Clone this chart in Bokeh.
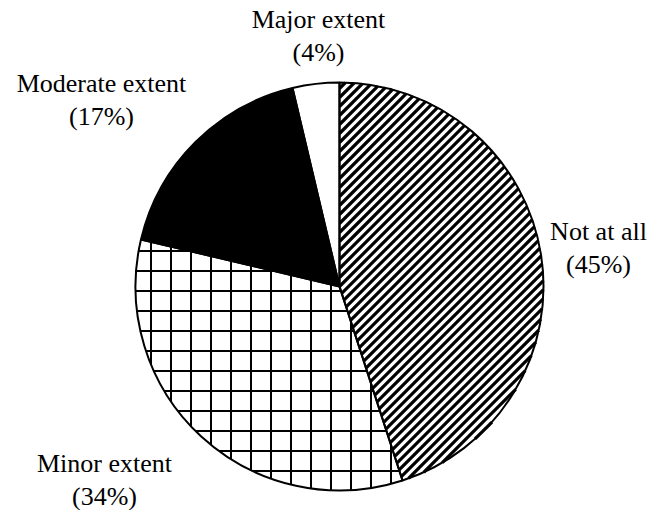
import math
from bokeh.plotting import figure
from bokeh.models import Range1d
from bokeh.core.properties import value
from bokeh.embed import file_html
from bokeh.resources import INLINE

# ---- data ----
categories = ["Not at all", "Minor extent", "Moderate extent", "Major extent"]
shares = [45.0, 33.7, 17.6, 3.7]
pct_labels = ["(45%)", "(34%)", "(17%)", "(4%)"]
fills = ["white", "white", "black", "white"]
hatches = ["/", "+", " ", " "]

# ---- layout (page pixel coords, y measured downward) ----
W, H = 650, 510
cx, cy, r = 339, 286, 204
label_pos = {  # center x, baseline y of first line
    "Not at all": (598, 231),
    "Minor extent": (104, 463),
    "Moderate extent": (101, 83),
    "Major extent": (318, 19),
}
line_gap = 33
diag_step = 9.0   # vertical spacing of 45-degree hatch lines

def Y(py):
    return H - py

p = figure(width=W, height=H, output_backend="svg", toolbar_location=None,
           x_range=Range1d(0, W), y_range=Range1d(0, H),
           min_border=0, outline_line_color=None)
p.axis.visible = False
p.grid.visible = False

starts, ends = [], []
cum = 0.0
total = sum(shares)
for v in shares:
    a0 = math.pi / 2 - cum / total * 2 * math.pi
    cum += v
    a1 = math.pi / 2 - cum / total * 2 * math.pi
    starts.append(a0)
    ends.append(a1)

def cross(a, b):
    return a[0] * b[1] - a[1] * b[0]

def diag_segments(a_start, a_end):
    """45-degree hatch lines clipped to the sector going clockwise a_start -> a_end."""
    ox, oy = cx, Y(cy)
    u0 = (math.cos(a_start), math.sin(a_start))
    u1 = (math.cos(a_end), math.sin(a_end))
    d = (1 / math.sqrt(2), 1 / math.sqrt(2))
    x0s, y0s, x1s, y1s = [], [], [], []
    k = -int(r * 1.5 / diag_step) - 1
    while k * diag_step < r * 1.5:
        c = k * diag_step
        P = (-c / 2, c / 2)
        b = P[0] * d[0] + P[1] * d[1]
        cc = P[0] ** 2 + P[1] ** 2 - r * r
        disc = b * b - cc
        k += 1
        if disc <= 0:
            continue
        lo, hi = -b - math.sqrt(disc), -b + math.sqrt(disc)
        for u, sgn in ((u1, 1), (u0, -1)):
            a = sgn * cross(u, P)
            m = sgn * cross(u, d)
            if abs(m) < 1e-12:
                if a < 0:
                    lo, hi = 1, 0
                continue
            t = -a / m
            if m > 0:
                lo = max(lo, t)
            else:
                hi = min(hi, t)
        if hi > lo:
            x0s.append(ox + P[0] + lo * d[0]); y0s.append(oy + P[1] + lo * d[1])
            x1s.append(ox + P[0] + hi * d[0]); y1s.append(oy + P[1] + hi * d[1])
    return x0s, y0s, x1s, y1s

for i in range(len(categories)):
    kw = {}
    if hatches[i] == "+":
        kw = dict(hatch_pattern="+", hatch_color="black", hatch_scale=20, hatch_weight=2.0)
    p.wedge(x=cx, y=Y(cy), radius=r, start_angle=starts[i], end_angle=ends[i],
            direction="clock", fill_color=fills[i], line_color=None, **kw)
    if hatches[i] == "/":
        x0, y0, x1, y1 = diag_segments(starts[i], ends[i])
        p.segment(x0=x0, y0=y0, x1=x1, y1=y1, line_color="black", line_width=3.2)

for i in range(len(categories)):
    p.wedge(x=cx, y=Y(cy), radius=r, start_angle=starts[i], end_angle=ends[i],
            direction="clock", fill_color=None, line_color="black", line_width=2)

for i, c in enumerate(categories):
    lx, ly = label_pos[c]
    p.text(x=[lx, lx], y=[Y(ly), Y(ly + line_gap)], text=[c, pct_labels[i]],
           text_font=value("Liberation Serif"), text_font_size="26px",
           text_align="center", text_baseline="alphabetic", text_color="black")

open("out.html", "w").write(file_html(p, INLINE))
